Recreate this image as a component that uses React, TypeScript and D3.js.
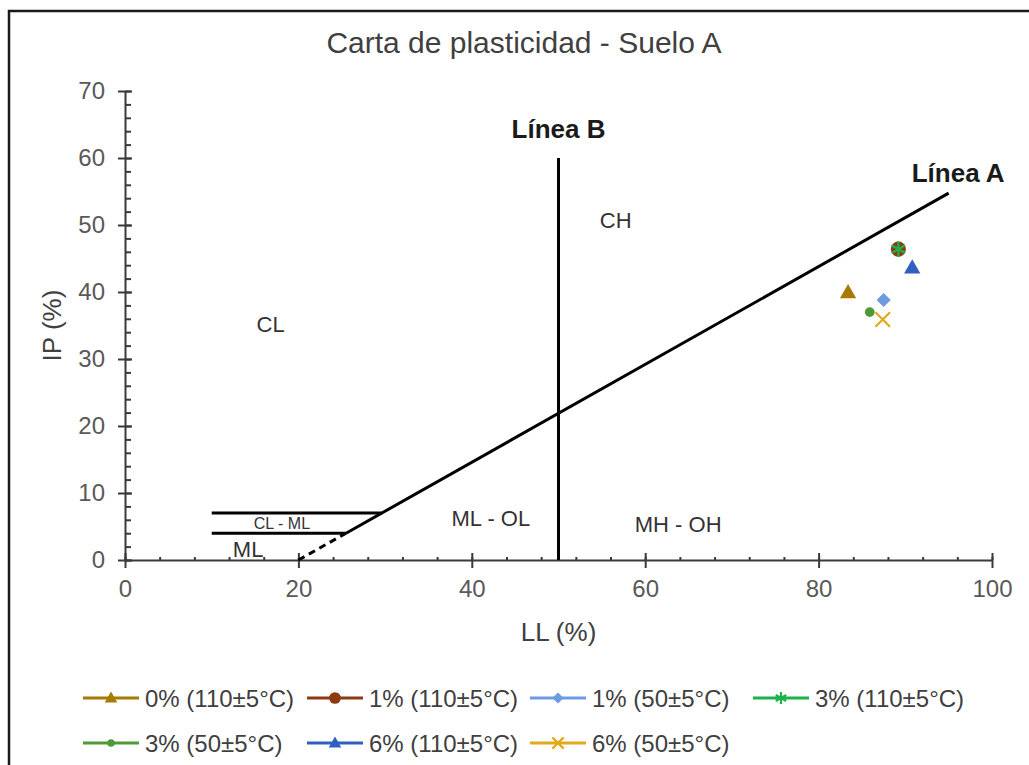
import React, { useEffect, useRef } from 'react';
import * as d3 from 'd3';

// series (LL %, IP %)
const seriesNames = ['0% (110±5°C)', '1% (110±5°C)', '1% (50±5°C)', '3% (110±5°C)', '3% (50±5°C)', '6% (110±5°C)', '6% (50±5°C)'];
const seriesLL = [83.4, 89.2, 87.5, 89.2, 85.9, 90.8, 87.4];
const seriesIP = [40.0, 46.4, 38.8, 46.4, 37.0, 43.7, 35.9];
const seriesColors = ['#A87B00', '#8E3A12', '#6C9BE3', '#1DB14B', '#4E9A33', '#2F5FBF', '#E3A81B'];
const seriesMarkers = ['triangle', 'circle', 'diamond', 'asterisk', 'smallcircle', 'triangle', 'x'];

// reference lines of the plasticity chart
const lineA = [[25.5, 4], [95, 54.75]];
const lineADashed = [[20, 0], [25.5, 4]];
const lineB = [[50, 0], [50, 60]];
const lineCL = [[10, 7], [29.6, 7]];
const lineML = [[10, 4], [25.5, 4]];

// zone labels [text, LL, IP]
const zoneLabels: [string, number, number][] = [
  ['CH', 56.6, 50.7],
  ['CL', 16.8, 35.1],
  ['ML - OL', 42.2, 6.2],
  ['MH - OH', 63.8, 5.3],
  ['ML', 14.2, 1.5],
];
const smallLabels: [string, number, number][] = [['CL - ML', 18.1, 5.5]];
const boldLabels: [string, number, number][] = [['Línea B', 50, 64.3], ['Línea A', 96.1, 57.8]];

const xTicks = [0, 20, 40, 60, 80, 100];
const yTicks = [0, 10, 20, 30, 40, 50, 60, 70];

const App = () => {
  const ref = useRef<SVGSVGElement>(null);

  useEffect(() => {
    var svg = d3.select(ref.current);
    svg.selectAll('*').remove();
    var font = 'Liberation Sans, Arial, sans-serif';

    // frame
    svg.append('rect')
      .attr('x', 9).attr('y', 11).attr('width', 1060).attr('height', 800)
      .attr('fill', 'white').attr('stroke', '#1a1a1a').attr('stroke-width', 2.5);

    var x = d3.scaleLinear().domain([0, 100]).range([125, 992]);
    var y = d3.scaleLinear().domain([0, 70]).range([560, 91]);

    svg.append('text')
      .attr('x', 524).attr('y', 42)
      .attr('text-anchor', 'middle').attr('dominant-baseline', 'central')
      .style('font-family', font).style('font-size', '30px').attr('fill', '#404040')
      .text('Carta de plasticidad - Suelo A');

    // minor ticks
    var yAxisMinor = svg.append('g')
      .attr('transform', 'translate(' + x(0) + ',0)')
      .call(d3.axisRight(y).tickValues(d3.range(0, 71, 2)).tickSize(6).tickFormat(() => ''));
    yAxisMinor.select('.domain').remove();
    var xAxisMinor = svg.append('g')
      .attr('transform', 'translate(0,' + y(0) + ')')
      .call(d3.axisTop(x).tickValues(d3.range(0, 101, 4)).tickSize(3).tickFormat(() => ''));
    xAxisMinor.select('.domain').remove();

    // major axes
    var yAxis = svg.append('g')
      .attr('transform', 'translate(' + x(0) + ',0)')
      .call(d3.axisLeft(y).tickValues(yTicks).tickSizeInner(7).tickSizeOuter(0).tickPadding(13));
    yAxis.selectAll('.tick line').attr('x2', 7).attr('x1', -7);
    var xAxis = svg.append('g')
      .attr('transform', 'translate(0,' + y(0) + ')')
      .call(d3.axisBottom(x).tickValues(xTicks).tickSizeInner(8).tickSizeOuter(0).tickPadding(12));
    xAxis.selectAll('.tick line').attr('y1', -7).attr('y2', 8);

    svg.selectAll('.tick line, .domain').attr('stroke', '#3a3a3a').attr('stroke-width', 2);
    svg.selectAll('.tick text')
      .style('font-family', font).style('font-size', '24px').attr('fill', '#595959');

    svg.append('text')
      .attr('x', x(50)).attr('y', 632)
      .attr('text-anchor', 'middle').attr('dominant-baseline', 'central')
      .style('font-family', font).style('font-size', '26px').attr('fill', '#404040')
      .text('LL (%)');
    svg.append('text')
      .attr('transform', 'translate(52,' + y(35) + ')rotate(-90)')
      .attr('text-anchor', 'middle').attr('dominant-baseline', 'central')
      .style('font-family', font).style('font-size', '26px').attr('fill', '#404040')
      .text('IP (%)');

    // chart lines
    var line = d3.line<number[]>().x(d => x(d[0])).y(d => y(d[1]));
    [lineA, lineB, lineCL, lineML].forEach(pts => {
      svg.append('path').attr('d', line(pts)).attr('fill', 'none')
        .attr('stroke', 'black').attr('stroke-width', 3);
    });
    svg.append('path').attr('d', line(lineADashed)).attr('fill', 'none')
      .attr('stroke', 'black').attr('stroke-width', 3).attr('stroke-dasharray', '7,5');

    zoneLabels.forEach(l => {
      svg.append('text').attr('x', x(l[1])).attr('y', y(l[2]))
        .attr('text-anchor', 'middle').attr('dominant-baseline', 'central')
        .style('font-family', font).style('font-size', '22px').attr('fill', '#333')
        .text(l[0]);
    });
    smallLabels.forEach(l => {
      svg.append('text').attr('x', x(l[1])).attr('y', y(l[2]))
        .attr('text-anchor', 'middle').attr('dominant-baseline', 'central')
        .style('font-family', font).style('font-size', '16px').attr('fill', '#333')
        .text(l[0]);
    });
    boldLabels.forEach(l => {
      svg.append('text').attr('x', x(l[1])).attr('y', y(l[2]))
        .attr('text-anchor', 'middle').attr('dominant-baseline', 'central')
        .style('font-family', font).style('font-size', '26px').style('font-weight', 'bold').attr('fill', '#1a1a1a')
        .text(l[0]);
    });

    // markers
    function drawMarker(g: any, kind: string, color: string, cx: number, cy: number, scale: number) {
      var sym: any = d3.symbolCircle, size = 180, stroke = false, rot = 0;
      if (kind === 'triangle') { sym = d3.symbolTriangle; size = 115; }
      if (kind === 'diamond') { sym = d3.symbolSquare; size = 100; rot = 45; }
      if (kind === 'smallcircle') { sym = d3.symbolCircle; size = 75; }
      if (kind === 'asterisk') { sym = d3.symbolAsterisk; size = 170; stroke = true; }
      if (kind === 'x') { sym = d3.symbolX; size = 140; stroke = true; }
      var p = g.append('path')
        .attr('d', d3.symbol().type(sym).size(size * scale)())
        .attr('transform', 'translate(' + cx + ',' + (cy + (kind === 'triangle' ? 1.5 * scale : 0)) + ')rotate(' + rot + ')');
      if (stroke) p.attr('fill', 'none').attr('stroke', color).attr('stroke-width', 2.2);
      else p.attr('fill', color);
    }

    seriesNames.forEach((name, i) => {
      drawMarker(svg, seriesMarkers[i], seriesColors[i], x(seriesLL[i]), y(seriesIP[i]), 1);
    });

    // legend
    var legendRows = [
      { yy: 698, items: [0, 1, 2, 3], xs: [83, 307, 530, 753] },
      { yy: 743, items: [4, 5, 6], xs: [83, 307, 530] },
    ];
    legendRows.forEach(row => {
      row.items.forEach((idx, j) => {
        var lx = row.xs[j];
        var g = svg.append('g');
        g.append('line').attr('x1', lx).attr('x2', lx + 56).attr('y1', row.yy).attr('y2', row.yy)
          .attr('stroke', seriesColors[idx]).attr('stroke-width', 3);
        drawMarker(g, seriesMarkers[idx], seriesColors[idx], lx + 28, row.yy, 0.6);
        g.append('text').attr('x', lx + 62).attr('y', row.yy)
          .attr('dominant-baseline', 'central')
          .style('font-family', font).style('font-size', '24px').attr('fill', '#404040')
          .text(seriesNames[idx]);
      });
    });
  }, []);

  return (
    <svg ref={ref} width={1029} height={765}
      style={{ position: 'absolute', left: 0, top: 0, background: 'white' }} />
  );
};

export default App;
